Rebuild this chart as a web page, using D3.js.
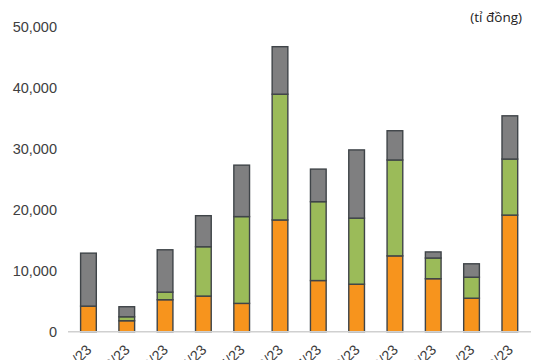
<!DOCTYPE html>
<html><head><meta charset="utf-8">
<script src="https://cdn.jsdelivr.net/npm/d3@7"></script>
<style>html,body{margin:0;padding:0;background:#fff;overflow:hidden;}</style>
</head><body>
<svg id="c" width="540" height="360"></svg>
<script>
const categories = ["T1/23","T2/23","T3/23","T4/23","T5/23","T6/23","T7/23","T8/23","T9/23","T10/23","T11/23","T12/23"];
const seriesNames = ["orange","green","gray"];
const orangeValues = [4200,1800,5250,5850,4650,18350,8400,7800,12450,8700,5500,19150];
const greenValues  = [0,650,1250,8100,14250,20650,12950,10850,15750,3400,3450,9200];
const grayValues   = [8700,1650,6950,5100,8450,7800,5350,11200,4800,1000,2200,7100];
const yTicks = [0,10000,20000,30000,40000,50000];
const unitLabel = "(tỉ đồng)";
const colors = ["#F7941D","#9BBB59","#7F7F80"];

const svg = d3.select("#c");
const rows = categories.map((c,i)=>({cat:c, orange:orangeValues[i], green:greenValues[i], gray:grayValues[i]}));
const stack = d3.stack().keys(seriesNames)(rows);

const x = d3.scaleBand().domain(categories).range([69.3, 529]).paddingInner(0.59).paddingOuter(0.295);
const y = d3.scaleLinear().domain([0,50000]).range([331.7, 27.2]);

// y axis labels
const yAxis = d3.axisLeft(y).tickValues(yTicks).tickSize(0).tickPadding(0).tickFormat(d3.format(","));
const gy = svg.append("g").attr("transform","translate(57,0)").call(yAxis);
gy.select(".domain").remove();
gy.selectAll("text").attr("font-family","Liberation Sans, Arial, sans-serif").attr("font-size","14.5px").attr("fill","#404040");

// bars
svg.append("g").selectAll("g").data(stack).join("g")
  .attr("fill",(d,i)=>colors[i])
  .selectAll("rect").data(d=>d.filter(s=>s[1]-s[0]>0)).join("rect")
  .attr("x",d=>x(d.data.cat))
  .attr("width",x.bandwidth())
  .attr("y",d=>y(d[1]))
  .attr("height",d=>y(d[0])-y(d[1]))
  .attr("stroke","#3f4448").attr("stroke-width",1.4);

// baseline
const xAxis = d3.axisBottom(x).tickSize(0).tickPadding(0);
const gx = svg.append("g").attr("transform",`translate(0,${y(0)})`).call(xAxis);
gx.select(".domain").attr("stroke","#d0d0d0").attr("stroke-width",1.5).attr("d","M68,0H531");
gx.selectAll("text")
  .attr("font-family","Liberation Sans, Arial, sans-serif").attr("font-size","14.5px").attr("fill","#404040")
  .attr("text-anchor","end")
  .attr("dy",0)
  .attr("transform","translate(4,19) rotate(-45)");

svg.append("text").attr("x",522).attr("y",22).attr("text-anchor","end")
  .attr("font-family","Open Sans, sans-serif").attr("font-size","13.5px").attr("fill","#222")
  .text(unitLabel);
</script>
</body></html>
